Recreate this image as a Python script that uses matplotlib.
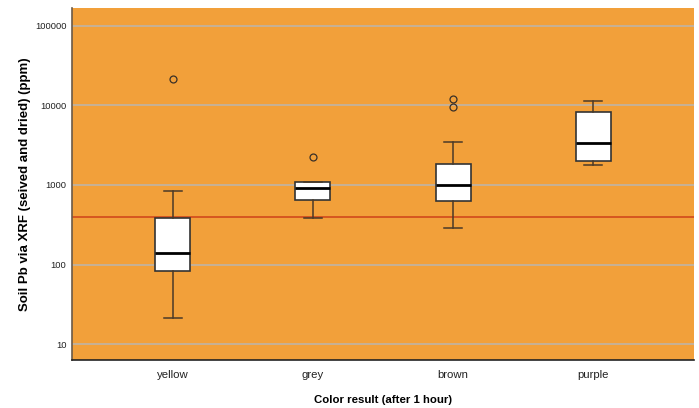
import matplotlib
matplotlib.use("Agg")
import matplotlib.pyplot as plt

plt.rcParams['font.family'] = ['Liberation Sans', 'DejaVu Sans']

categories = ['yellow', 'grey', 'brown', 'purple']
whisker_low = [21, 380, 290, 1760]
box_low = [84, 650, 624, 2000]
medians = [141, 917, 1000, 3410]
box_high = [390, 1090, 1830, 8320]
whisker_high = [830, 1090, 3450, 11300]
outliers = [[21800], [2280], [9450, 12200], []]
threshold = 400

stats = []
for i, name in enumerate(categories):
    stats.append({
        'label': name,
        'whislo': whisker_low[i],
        'q1': box_low[i],
        'med': medians[i],
        'q3': box_high[i],
        'whishi': whisker_high[i],
        'fliers': outliers[i],
    })

fig = plt.figure(figsize=(6.99, 4.08), dpi=100)
ax = fig.add_axes([72 / 699, 1 - 360 / 408, (694 - 72) / 699, (360 - 8) / 408])
ax.set_facecolor('#f2a03a')

ax.set_yscale('log')
ax.set_ylim(6.3, 168000)
ax.set_xlim(-0.72, 3.72)
ax.set_yticks([10, 100, 1000, 10000, 100000])
ax.set_yticklabels(['10', '100', '1000', '10000', '100000'])
ax.minorticks_off()
ax.yaxis.grid(True, color='#bfb4a6', linewidth=1.2)
ax.set_axisbelow(True)

ax.axhline(threshold, color='#d4501e', linewidth=1.3, zorder=1.5)

ax.bxp(stats, positions=range(len(categories)), widths=0.25,
       patch_artist=True,
       boxprops=dict(facecolor='white', edgecolor='#333333', linewidth=1.2),
       medianprops=dict(color='black', linewidth=2),
       whiskerprops=dict(color='#4a3a28', linewidth=1.1),
       capprops=dict(color='#4a3a28', linewidth=1.1),
       capwidths=0.13,
       flierprops=dict(marker='o', markersize=5, markerfacecolor='none',
                       markeredgecolor='#3a3028', markeredgewidth=0.9),
       zorder=3)

ax.tick_params(axis='both', length=0)
ax.tick_params(axis='y', labelsize=6.8, colors='#222222', pad=4)
ax.tick_params(axis='x', labelsize=8.2, colors='#222222', pad=7)

for s in ['top', 'right']:
    ax.spines[s].set_visible(False)
ax.spines['left'].set_color('#6b5a48')
ax.spines['left'].set_linewidth(1.2)
ax.spines['bottom'].set_color('#222222')
ax.spines['bottom'].set_linewidth(1.2)

ax.set_xlabel('Color result (after 1 hour)', fontsize=8.2, fontweight='bold', labelpad=11)
ax.set_ylabel('Soil Pb via XRF (seived and dried) (ppm)', fontsize=9.5, fontweight='bold', labelpad=3)

fig.savefig('out.png', dpi=100)
